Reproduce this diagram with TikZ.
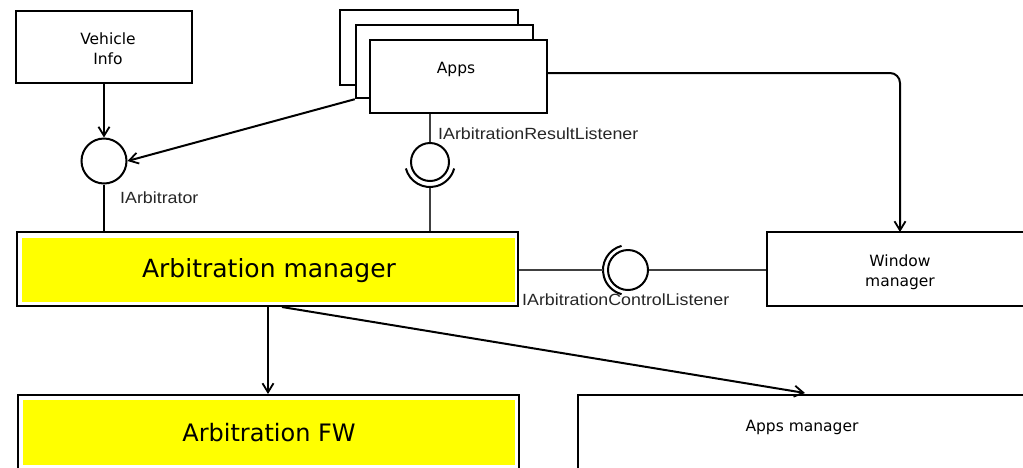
\documentclass[tikz,border=0pt]{standalone}
\usepackage{fontspec}
\setmainfont{DejaVu Sans}
\newfontfamily\labelfont[FakeStretch=1.1]{Liberation Sans}
\usetikzlibrary{arrows.meta}
\definecolor{fwyellow}{RGB}{255,255,0}
\tikzset{
  box/.style={draw=black, line width=2.4pt, fill=white, inner sep=0pt, align=center},
  boxtext/.style={font=\fontsize{15.5}{20}\selectfont, align=center, inner sep=0pt},
  bigtext/.style={font=\fontsize{25}{29}\selectfont, inner sep=0pt},
  flow/.style={draw=black, line width=2pt, -{Straight Barb[length=9pt,width=11pt,line width=1.8pt]}},
  wire/.style={draw=black!75, line width=1.4pt},
  iface/.style={circle, draw=black, line width=2pt, fill=white, inner sep=0pt},
  sock/.style={draw=black, line width=2pt},
  ilabel/.style={font=\labelfont\fontsize{16.2}{19}\selectfont, anchor=west, inner sep=0pt, text=black!85},
}
\begin{document}
\begin{tikzpicture}[x=1pt, y=-1pt]
\useasboundingbox (0,0) rectangle (1023,467);

% Vehicle Info
\node[box, minimum width=176pt, minimum height=72pt] (vinfo) at (104,47) {};
\node[boxtext] (vinfotxt) at (108,49) {Vehicle\\Info};

% stacked Apps boxes
\node[box, minimum width=178pt, minimum height=75pt] (appsback) at (429,47.5) {};
\node[box, minimum width=177pt, minimum height=73pt] (appsmid) at (444.5,61.5) {};
\node[box, minimum width=177pt, minimum height=73pt] (apps) at (458.5,76.5) {};
\node[boxtext] (appstxt) at (456,69) {Apps};

% Arbitration manager
\node[box, minimum width=501pt, minimum height=74pt] (am) at (267.5,269) {};
\fill[fwyellow] (22,238) rectangle (515,302);
\node[bigtext] (amtxt) at (269,271) {Arbitration manager};

% Window manager
\node[box, minimum width=268pt, minimum height=74pt] (wm) at (901,269) {};
\node[boxtext] (wmtxt) at (900,272) {Window\\manager};

% Arbitration FW
\node[box, minimum width=501pt, minimum height=120pt, anchor=north west] (fw) at (17,394) {};
\fill[fwyellow] (23,400) rectangle (515,465);
\node[bigtext, font=\fontsize{24}{28}\selectfont] (fwtxt) at (269,433) {Arbitration FW};

% Apps manager
\node[box, minimum width=450pt, minimum height=120pt, anchor=north west] (appsmgr) at (577,394) {};
\node[boxtext] (amgrtxt) at (802,427) {Apps manager};

% IArbitrator interface
\node[iface, minimum size=45pt] (iarb) at (104,161) {};
\node[ilabel] (iarblbl) at (120,198) {IArbitrator};
\draw[wire, draw=black, line width=1.8pt] (iarb.south) -- (iarb.south |- am.north);
\draw[flow] (vinfo.south) -- (iarb.north);
\draw[flow] (appsmid.south west) -- (iarb.east);

% IArbitrationResultListener interface
\node[iface, minimum size=38pt] (ires) at (430,162) {};
\draw[sock] (ires.center) ++(195:25pt) arc[start angle=195, end angle=345, radius=25pt];
\node[ilabel] (ireslbl) at (438,134) {IArbitrationResultListener};
\draw[wire] (apps.south -| ires.north) -- (ires.north);
\coordinate (iresfoot) at (430,188);
\draw[wire] (iresfoot) -- (iresfoot |- am.north);

% IArbitrationControlListener interface
\node[iface, minimum size=40pt] (ictl) at (628,270) {};
\draw[sock] (ictl.center) ++(105:25pt) arc[start angle=105, end angle=255, radius=25pt];
\node[ilabel] (ictllbl) at (522,300) {IArbitrationControlListener};
\coordinate (ictlfoot) at (603,270);
\draw[wire] (am.east |- ictl.center) -- (ictlfoot);
\draw[wire] (ictl.east) -- (wm.west |- ictl.center);

% Apps to Window manager
\draw[flow, rounded corners=10pt] (apps.east |- 0,73) -- (900,73) -- (900,232);

% Arbitration manager to FW and Apps manager
\coordinate (amfoot) at (268,306);
\draw[flow] (amfoot) -- (amfoot |- fw.north);
\coordinate (amfoot2) at (282,307);
\coordinate (appsmgrtop) at (805,393);
\draw[flow] (amfoot2) -- (appsmgrtop);
\end{tikzpicture}
\end{document}
